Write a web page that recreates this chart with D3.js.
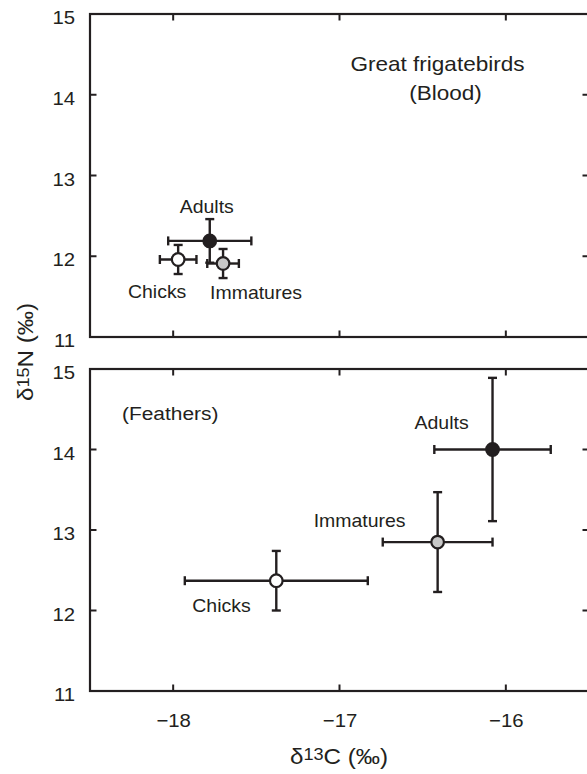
<!DOCTYPE html>
<html>
<head>
<meta charset="utf-8">
<script src="https://cdn.jsdelivr.net/npm/d3@7"></script>
<style>
  body { margin: 0; background: #fff; }
  svg text { font-family: "Liberation Sans", Arial, Helvetica, sans-serif; fill: #231f20; }
</style>
</head>
<body>
<div id="chart"></div>
<script>
const width = 587;
const height = 774;

// groups and the values (mean +/- error)
const groups = ["Chicks", "Immatures", "Adults"];
const fills = ["#ffffff", "#c8c8c8", "#231f20"];

const bloodC = [-17.97, -17.70, -17.78];
const bloodCErr = [0.11, 0.095, 0.25];
const bloodN = [11.96, 11.91, 12.19];
const bloodNErr = [0.18, 0.18, 0.27];

const featherC = [-17.38, -16.41, -16.08];
const featherCErr = [0.55, 0.33, 0.35];
const featherN = [12.37, 12.85, 14.0];
const featherNErr = [0.37, 0.62, 0.89];

const xTicks = [-18, -17, -16];
const yTicks = [11, 12, 13, 14, 15];

const ink = "#231f20";
const sx = 1.1; // glyphs in the figure are a little wide
const fmt = d3.format("d");
const tickLen = 6.5;

const svg = d3.select("#chart")
    .append("svg")
    .attr("width", width)
    .attr("height", height);

const x = d3.scaleLinear().domain([-18.5, -15.5]).range([90, 589]);

function addText(g, px, py, str, anchor, size) {
    return g.append("text")
        .attr("transform", "translate(" + px + "," + py + ") scale(" + sx + ",1)")
        .attr("text-anchor", anchor)
        .style("font-size", size + "px")
        .text(str);
}

function drawPanel(top, bottom, cVals, cErr, nVals, nErr, labelOffsets, showX) {
    const y = d3.scaleLinear().domain([11, 15]).range([bottom, top]);
    const g = svg.append("g");
    const x0 = x.range()[0], x1 = x.range()[1];

    // inward ticks on all four sides
    const ticks = g.append("g").attr("stroke", ink).attr("stroke-width", 2);
    yTicks.forEach(function (v) {
        ticks.append("line").attr("x1", x0).attr("x2", x0 + tickLen).attr("y1", y(v)).attr("y2", y(v));
        ticks.append("line").attr("x1", x1).attr("x2", x1 - tickLen).attr("y1", y(v)).attr("y2", y(v));
    });
    xTicks.forEach(function (v) {
        ticks.append("line").attr("x1", x(v)).attr("x2", x(v)).attr("y1", top).attr("y2", top + tickLen);
        ticks.append("line").attr("x1", x(v)).attr("x2", x(v)).attr("y1", bottom).attr("y2", bottom - tickLen);
    });

    g.append("rect")
        .attr("x", x0).attr("y", top)
        .attr("width", x1 - x0).attr("height", bottom - top)
        .attr("fill", "none")
        .attr("stroke", ink)
        .attr("stroke-width", 2.2);

    // y labels
    const yl = g.append("g")
        .attr("transform", "translate(" + x0 + ",0)")
        .call(d3.axisLeft(y).tickValues(yTicks).tickFormat(fmt).tickSize(0).tickPadding(13.6));
    yl.select(".domain").remove();
    yl.selectAll("text")
        .attr("transform", "scale(" + sx + ",1)")
        .attr("dy", "0.52em")
        .style("font-size", "18.5px")
        .style("font-family", null);

    if (showX) {
        const xl = g.append("g")
            .attr("transform", "translate(0," + bottom + ")")
            .call(d3.axisBottom(x).tickValues(xTicks).tickFormat(fmt).tickSize(0).tickPadding(23));
        xl.select(".domain").remove();
        xl.selectAll("text")
            .attr("transform", "scale(" + sx + ",1)")
            .style("font-size", "18.5px")
            .style("font-family", null);
    }

    const bars = g.append("g")
        .attr("stroke", ink)
        .attr("stroke-width", 2.4)
        .attr("fill", "none");
    const cap = 4.5;

    groups.forEach(function (name, i) {
        const cx = x(cVals[i]), cy = y(nVals[i]);
        const xa = x(cVals[i] - cErr[i]), xb = x(cVals[i] + cErr[i]);
        const ya = y(nVals[i] - nErr[i]), yb = y(nVals[i] + nErr[i]);
        bars.append("line").attr("x1", xa).attr("x2", xb).attr("y1", cy).attr("y2", cy);
        bars.append("line").attr("x1", xa).attr("x2", xa).attr("y1", cy - cap).attr("y2", cy + cap);
        bars.append("line").attr("x1", xb).attr("x2", xb).attr("y1", cy - cap).attr("y2", cy + cap);
        bars.append("line").attr("x1", cx).attr("x2", cx).attr("y1", ya).attr("y2", yb);
        bars.append("line").attr("x1", cx - cap).attr("x2", cx + cap).attr("y1", ya).attr("y2", ya);
        bars.append("line").attr("x1", cx - cap).attr("x2", cx + cap).attr("y1", yb).attr("y2", yb);
    });

    g.selectAll("circle.pt")
        .data(groups)
        .enter()
        .append("circle")
        .attr("class", "pt")
        .attr("cx", (d, i) => x(cVals[i]))
        .attr("cy", (d, i) => y(nVals[i]))
        .attr("r", 6.3)
        .attr("fill", (d, i) => fills[i])
        .attr("stroke", ink)
        .attr("stroke-width", 2.2);

    groups.forEach(function (name, i) {
        const o = labelOffsets[i];
        addText(g, x(cVals[i]) + o[0], y(nVals[i]) + o[1], name, o[2], 17.7);
    });

    return g;
}

const top1 = drawPanel(14, 337, bloodC, bloodCErr, bloodN, bloodNErr,
    [[-21, 38.5, "middle"], [-13, 35.5, "start"], [-3, -28, "middle"]], false);
addText(top1, 437.5, 70.5, "Great frigatebirds", "middle", 20.5);
addText(top1, 445.5, 100, "(Blood)", "middle", 20.5);

const bot = drawPanel(369, 691, featherC, featherCErr, featherN, featherNErr,
    [[-84, 31, "start"], [-124, -15.5, "start"], [-78, -20.5, "start"]], true);
addText(bot, 122, 419.5, "(Feathers)", "start", 19);

// axis titles
const xt = svg.append("text")
    .attr("transform", "translate(339,764) scale(" + sx + ",1)")
    .attr("text-anchor", "middle")
    .style("font-size", "22px");
xt.append("tspan").text("δ");
xt.append("tspan").attr("dy", -4).style("font-size", "16.5px").text("13");
xt.append("tspan").attr("dy", 4).text("C (‰)");

const yt = svg.append("text")
    .attr("transform", "translate(33,352) rotate(-90) scale(" + sx + ",1)")
    .attr("text-anchor", "middle")
    .style("font-size", "22px");
yt.append("tspan").text("δ");
yt.append("tspan").attr("dy", -4).style("font-size", "16.5px").text("15");
yt.append("tspan").attr("dy", 4).text("N (‰)");
</script>
</body>
</html>
